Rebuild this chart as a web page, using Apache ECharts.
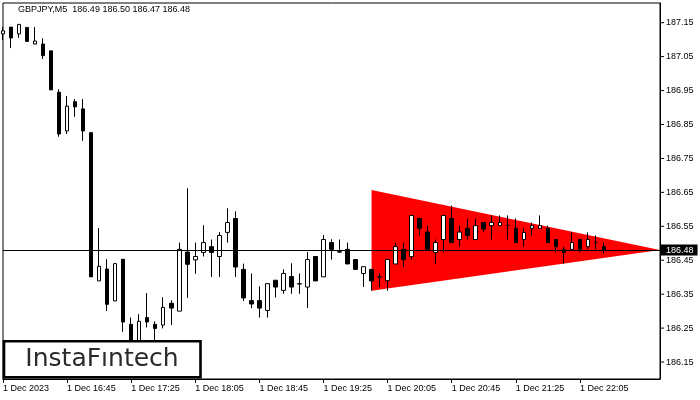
<!DOCTYPE html>
<html><head><meta charset="utf-8">
<script src="https://cdn.jsdelivr.net/npm/echarts@6/dist/echarts.min.js"></script>
<style>html,body{margin:0;padding:0;background:#fff}#c{width:700px;height:400px}</style>
</head><body><div id="c"></div>
<script>
const symbolName = 'GBPJPY,M5';
const times = ['16:05','16:10','16:15','16:20','16:25','16:30','16:35','16:40','16:45','16:50','16:55',
'17:00','17:05','17:10','17:15','17:20','17:25','17:30','17:35','17:40','17:45','17:50','17:55',
'18:00','18:05','18:10','18:15','18:20','18:25','18:30','18:35','18:40','18:45','18:50','18:55',
'19:00','19:05','19:10','19:15','19:20','19:25','19:30','19:35','19:40','19:45','19:50','19:55',
'20:00','20:05','20:10','20:15','20:20','20:25','20:30','20:35','20:40','20:45','20:50','20:55',
'21:00','21:05','21:10','21:15','21:20','21:25','21:30','21:35','21:40','21:45','21:50','21:55',
'22:00','22:05','22:10','22:15','22:20','22:25','22:30','22:35','22:40','22:45','22:50','22:55'];
const opens = [187.117,187.137,187.117,187.136,187.087,187.087,187.067,186.945,186.831,186.917,
186.896,186.826,186.389,186.424,186.330,186.453,186.261,186.205,186.281,186.261,
186.259,186.323,186.300,186.474,186.451,186.473,186.490,186.461,186.532,186.573,
186.423,186.331,186.331,186.302,186.391,186.361,186.402,186.380,186.371,186.461,
186.401,186.502,186.475,186.482,186.452,186.411,186.423,186.400,186.390,186.439,
186.482,186.461,186.573,186.533,186.473,186.511,186.573,186.511,186.544,186.511,
186.561,186.552,186.552,186.552,186.544,186.511,186.544,186.544,186.544,186.511,
186.482,186.482,186.511,186.490,186.502,186.49];
const highs = [187.137,187.137,187.146,187.137,187.137,187.104,187.067,186.954,186.934,186.925,
186.925,186.826,186.545,186.453,186.440,186.453,186.281,186.291,186.353,186.270,
186.341,186.332,186.502,186.662,186.502,186.553,186.511,186.533,186.603,186.594,
186.440,186.411,186.373,186.381,186.391,186.423,186.441,186.411,186.474,186.461,
186.524,186.512,186.511,186.502,186.452,186.431,186.423,186.411,186.452,186.502,
186.502,186.582,186.573,186.552,186.511,186.582,186.611,186.552,186.573,186.573,
186.561,186.582,186.582,186.582,186.573,186.544,186.561,186.582,186.552,186.511,
186.490,186.532,186.511,186.532,186.523,186.50];
const lows = [187.099,187.075,187.105,187.093,187.087,187.043,186.952,186.814,186.822,186.873,
186.802,186.401,186.389,186.300,186.330,186.239,186.179,186.190,186.252,186.199,
186.249,186.259,186.300,186.339,186.410,186.461,186.401,186.401,186.502,186.401,
186.330,186.309,186.281,186.281,186.340,186.351,186.351,186.351,186.309,186.389,
186.401,186.452,186.472,186.439,186.423,186.371,186.360,186.371,186.360,186.439,
186.431,186.452,186.523,186.482,186.440,186.473,186.502,186.490,186.511,186.511,
186.532,186.511,186.552,186.511,186.502,186.490,186.523,186.544,186.502,186.473,
186.440,186.482,186.473,186.482,186.482,186.47];
const closes = [187.126,187.105,187.145,187.095,187.096,187.053,186.952,186.822,186.904,186.902,
186.831,186.401,186.432,186.320,186.440,186.268,186.199,186.270,186.268,186.249,
186.311,186.309,186.482,186.438,186.461,186.502,186.473,186.523,186.561,186.430,
186.339,186.321,186.309,186.381,186.371,186.411,186.371,186.381,186.452,186.389,
186.511,186.482,186.474,186.439,186.423,186.431,186.389,186.401,186.452,186.490,
186.452,186.582,186.544,186.482,186.502,186.582,186.502,186.533,186.523,186.552,
186.542,186.561,186.561,186.553,186.502,186.532,186.552,186.552,186.502,186.490,
186.473,186.502,186.482,186.511,186.503,186.48];
const xTickLabels = ['1 Dec 2023','1 Dec 16:45','1 Dec 17:25','1 Dec 18:05','1 Dec 18:45',
'1 Dec 19:25','1 Dec 20:05','1 Dec 20:45','1 Dec 21:25','1 Dec 22:05'];
const currentPrice = 186.48;
const triangleTimes = ['19:55','22:55','19:55'];
const trianglePrices = [186.657,186.48,186.360];
const logoText = 'InstaF\u0131ntech';

const FONT = 'Liberation Sans';
const last = opens.length - 1;
const header = symbolName + '  ' + [opens[last], highs[last], lows[last], closes[last]].map(v => v.toFixed(2)).join(' ');
const candleData = opens.map((o, i) => [o, closes[i], lows[i], highs[i]]);
const tickEvery = 8;
const showTick = (i) => i % tickEvery === 0 && (i / tickEvery) < xTickLabels.length;

const chart = echarts.init(document.getElementById('c'), null, {renderer: 'canvas'});
chart.setOption({
  animation: false,
  backgroundColor: '#fff',
  grid: {left: 3, top: 3, right: 40, bottom: 21, show: true, borderColor: '#000', borderWidth: 1, backgroundColor: '#fff'},
  xAxis: {
    type: 'category', data: times, boundaryGap: false,
    axisLine: {show: true, lineStyle: {color: '#000', width: 1}},
    axisTick: {show: true, interval: (i) => showTick(i), length: 4, lineStyle: {color: '#000'}},
    axisLabel: {interval: (i) => showTick(i), formatter: (v, i) => showTick(i) ? xTickLabels[i / tickEvery] : '',
      align: 'left', margin: 5, fontSize: 9, fontFamily: FONT, color: '#000'},
    splitLine: {show: false}
  },
  yAxis: {
    type: 'value', position: 'right', min: 186.10, max: 187.208, interval: 0.05, scale: true,
    axisLine: {show: true, lineStyle: {color: '#000'}},
    axisTick: {show: false},
    splitLine: {show: false},
    axisLabel: {
      margin: 0, fontSize: 9, fontFamily: FONT, color: '#000',
      formatter: (v) => {
        const c = Math.round(v * 100);
        return (c % 10 === 5) ? '{t|}{v|' + (c / 100).toFixed(2) + '}' : '';
      },
      rich: {
        t: {width: 4, height: 1, backgroundColor: '#000', verticalAlign: 'middle'},
        v: {padding: [0, 0, 0, 2], fontSize: 9, fontFamily: FONT, color: '#000', verticalAlign: 'middle'}
      }
    }
  },
  series: [
    {
      type: 'custom', z: 1, clip: true, silent: true,
      data: [[times.indexOf(triangleTimes[0]), trianglePrices[0]]],
      renderItem: (params, api) => {
        const pts = triangleTimes.map((t, k) => api.coord([times.indexOf(t), trianglePrices[k]]));
        return {type: 'polygon', shape: {points: pts}, style: {fill: '#ff0000'}};
      }
    },
    {
      type: 'candlestick', z: 3, barWidth: 4, data: candleData, silent: true,
      itemStyle: {color: '#ffffff', color0: '#000000', borderColor: '#000000', borderColor0: '#000000', borderColorDoji: '#000000', borderWidth: 1},
      markLine: {
        silent: true, symbol: 'none', animation: false,
        lineStyle: {color: '#000', width: 1, type: 'solid'},
        label: {show: true, position: 'end', distance: 1, formatter: currentPrice.toFixed(2),
          backgroundColor: '#000', color: '#fff', fontSize: 9, fontFamily: FONT, padding: [1, 4, 1, 5]},
        data: [{yAxis: currentPrice}]
      }
    }
  ],
  graphic: [
    {type: 'text', left: 18, top: 5, z: 10, style: {text: header, font: '9px "' + FONT + '"', fill: '#000'}},
    {type: 'rect', z: 20, shape: {x: 4, y: 341.3, width: 196.5, height: 36}, style: {fill: '#fff', stroke: '#000', lineWidth: 2.6}},
    {type: 'text', z: 21, x: 102, y: 359.5, style: {text: logoText, font: '25px "DejaVu Sans"', fill: '#2a2a2a', align: 'center', verticalAlign: 'middle'}}
  ]
});
</script>
</body></html>
